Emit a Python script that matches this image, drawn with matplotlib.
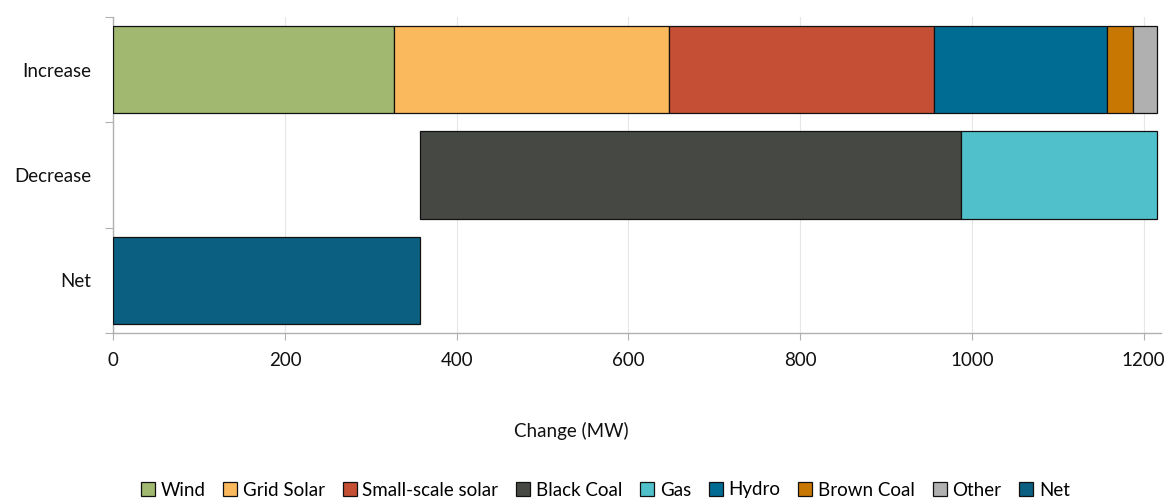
import matplotlib
matplotlib.use("Agg")
import matplotlib.pyplot as plt
import numpy as np

plt.rcParams['font.family'] = ['Lato', 'DejaVu Sans']

# bottom to top
categories = ['Net', 'Decrease', 'Increase']

# invisible offset so the decrease bar starts where the net ends
offset = [0, 357, 0]

wind = [0, 0, 327]
grid_solar = [0, 0, 320]
small_solar = [0, 0, 309]
black_coal = [0, 630, 0]
gas = [0, 229, 0]
hydro = [0, 0, 201]
brown_coal = [0, 0, 31]
other = [0, 0, 28]
net = [357, 0, 0]

series = [
    ('Wind', wind, '#a0b86f'),
    ('Grid Solar', grid_solar, '#fbb95d'),
    ('Small-scale solar', small_solar, '#c44f35'),
    ('Black Coal', black_coal, '#464843'),
    ('Gas', gas, '#50c1cb'),
    ('Hydro', hydro, '#006b93'),
    ('Brown Coal', brown_coal, '#c97703'),
    ('Other', other, '#b0b0b0'),
    ('Net', net, '#0b5f80'),
]

x_ticks = [0, 200, 400, 600, 800, 1000, 1200]

fig = plt.figure(figsize=(11.66, 5), dpi=100)
ax = fig.add_axes([0.0972, 0.334, 0.8983, 0.632])

y = np.arange(len(categories))
left = np.array(offset, dtype=float)
handles = []
for name, vals, color in series:
    vals = np.array(vals, dtype=float)
    mask = vals > 0
    bars = ax.barh(y[mask], vals[mask], left=left[mask], height=0.83,
                   color=color, edgecolor='#111111', linewidth=0.9, zorder=3, label=name)
    handles.append(bars)
    left = left + vals

ax.set_xlim(0, 1220)
ax.set_ylim(-0.5, 2.5)
ax.set_xticks(x_ticks)
ax.set_xticklabels([str(t) for t in x_ticks], fontsize=13.5, color='#111111')
ax.tick_params(axis='x', length=5, color='#b0b0b0', pad=9)
ax.grid(axis='x', color='#e6e6e6', linewidth=0.8, zorder=0)

# category boundaries get the tick marks, names sit in between
ax.set_yticks([-0.5, 0.5, 1.5, 2.5])
ax.set_yticklabels([])
ax.tick_params(axis='y', which='major', length=6, color='#b0b0b0')
ax.set_yticks(y, minor=True)
ax.set_yticklabels(categories, minor=True, fontsize=13.5, color='#111111')
ax.tick_params(axis='y', which='minor', length=0, pad=16)

for side in ['top', 'right']:
    ax.spines[side].set_visible(False)
for side in ['left', 'bottom']:
    ax.spines[side].set_color('#b0b0b0')
    ax.spines[side].set_linewidth(1.0)

ax.set_xlabel('Change (MW)', fontsize=13.5, color='#111111')
ax.xaxis.set_label_coords(0.437, -0.28)

fig.legend(handles=handles, loc='center', bbox_to_anchor=(0.519, 0.02), ncol=9,
           frameon=False, fontsize=13.5, handlelength=0.75, handleheight=0.75,
           handletextpad=0.3, columnspacing=0.95, borderaxespad=0)

fig.savefig('out.png', dpi=100)
